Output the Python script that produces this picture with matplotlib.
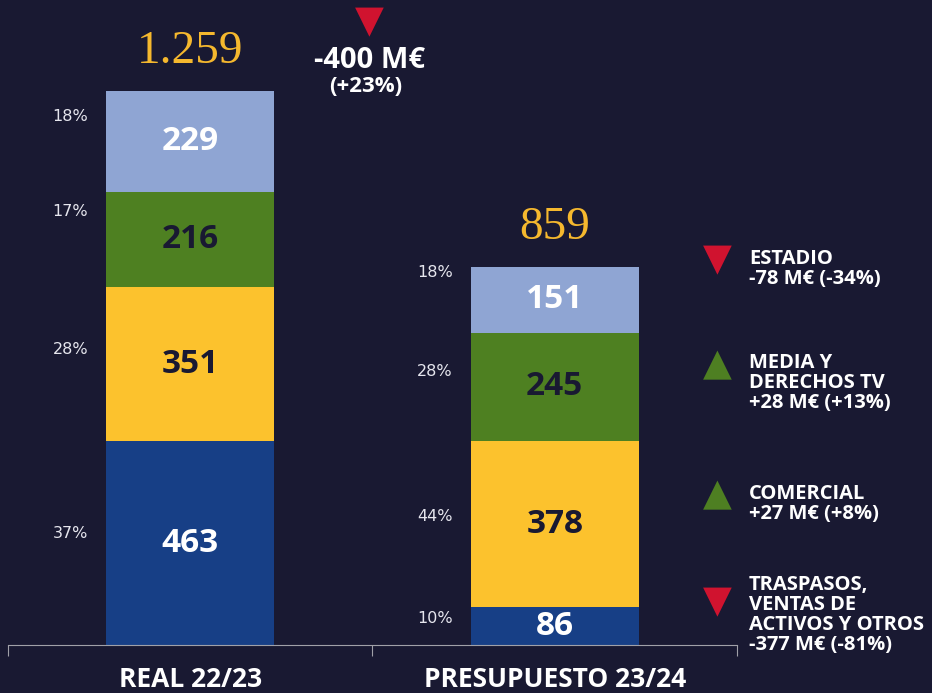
import matplotlib.pyplot as plt
import numpy as np

# Datos
categorias = ["REAL 22/23", "PRESUPUESTO 23/24"]
segmentos = ["Traspasos", "Comercial", "Media y derechos TV", "Estadio"]
real = [463, 351, 216, 229]
presupuesto = [86, 378, 245, 151]
totales = ["1.259", "859"]
pct_real = ["37%", "28%", "17%", "18%"]
pct_pres = ["10%", "44%", "28%", "18%"]

colores = ["#173F86", "#FCC22D", "#4E8021", "#8FA5D3"]
color_num = ["white", "#191932", "#191932", "white"]

variaciones = [
    ("ESTADIO\n-78 M€ (-34%)", "down"),
    ("MEDIA Y\nDERECHOS TV\n+28 M€ (+13%)", "up"),
    ("COMERCIAL\n+27 M€ (+8%)", "up"),
    ("TRASPASOS,\nVENTAS DE\nACTIVOS Y OTROS\n-377 M€ (-81%)", "down"),
]
diferencia = "-400 M€"
diferencia_pct = "(+23%)"

fondo = "#191932"
rojo = "#D0132F"
verde = "#4E7F22"
oro = "#F5B82E"
cond = ["Open Sans", "DejaVu Sans"]

W, H = 932, 693
fig = plt.figure(figsize=(W / 100, H / 100), dpi=100, facecolor=fondo)
ax = fig.add_axes([8 / W, (H - 645) / H, 729 / W, 645 / H])
ax.set_facecolor(fondo)
ax.set_xlim(-0.5, 1.5)
ax.set_ylim(0, 1466)

series = [real, presupuesto]
pcts = [pct_real, pct_pres]
# desplazamiento (px) de las etiquetas de % respecto al centro del segmento
desp = [[-10, -15, -28, -25], [-8, -8, -15, -27]]
for i, vals in enumerate(series):
    base = 0
    for j, v in enumerate(vals):
        ax.bar(i, v, bottom=base, width=0.46, color=colores[j], linewidth=0)
        centro = base + v / 2
        ax.text(i, centro, str(v), ha="center", va="center", fontsize=24,
                fontweight="bold", color=color_num[j], family="Open Sans")
        ax.annotate(pcts[i][j], (i - 0.28, centro), xytext=(0, -desp[i][j] * 0.72),
                    textcoords="offset points", ha="right", va="center",
                    fontsize=11.5, color="#E6E6EE")
        base += v
    ax.text(i, base + 40, totales[i], ha="center", va="bottom", fontsize=34,
            color=oro, family="Liberation Serif")

# eje
for s in ["top", "right", "left"]:
    ax.spines[s].set_visible(False)
ax.spines["bottom"].set_color("#A0A0A8")
ax.set_xticks([-0.5, 0.5, 1.5])
ax.set_xticklabels([])
ax.tick_params(axis="x", direction="out", length=8, color="#A0A0A8")
ax.set_yticks([])
for i, c in enumerate(categorias):
    ax.text(i, -35 / 0.44, c, ha="center", va="center", fontsize=19,
            fontweight="bold", color="white", family=cond)

# diferencia total
fig.text(369 / W, 1 - 22 / H, "▼", ha="center", va="center", fontsize=27, color=rojo)
fig.text(370 / W, 1 - 61 / H, diferencia, ha="center", va="center", fontsize=21,
         fontweight="bold", color="white", family="Open Sans")
fig.text(366 / W, 1 - 87 / H, diferencia_pct, ha="center", va="center", fontsize=16,
         fontweight="bold", color="white", family="Open Sans")

# variaciones por segmento
tri_y = [260, 365, 495, 602]
txt_y = [269, 383, 504, 615]
for (t, d), ty, yy in zip(variaciones, tri_y, txt_y):
    fig.text(717 / W, 1 - ty / H, "▼" if d == "down" else "▲", ha="center",
             va="center", fontsize=27, color=rojo if d == "down" else verde)
    fig.text(749 / W, 1 - yy / H, t, ha="left", va="center", fontsize=14.5,
             fontweight="bold", color="white", family=cond, linespacing=0.98)

fig.savefig("out.png", dpi=100, facecolor=fondo)
